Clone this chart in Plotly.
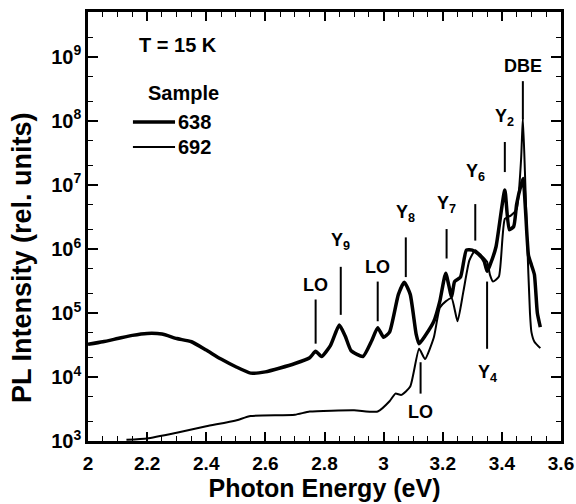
import plotly.graph_objects as go

# Sample 638 (thick)
e638 = [2.00, 2.05, 2.10, 2.15, 2.20, 2.25, 2.30, 2.35, 2.40, 2.45, 2.50, 2.55, 2.60, 2.65, 2.70, 2.75,
        2.77, 2.79, 2.82, 2.85, 2.87, 2.89, 2.93, 2.96, 2.98, 3.00, 3.02, 3.05, 3.07, 3.09, 3.11, 3.12,
        3.14, 3.17, 3.19, 3.21, 3.23, 3.24, 3.26, 3.28, 3.30, 3.32, 3.34, 3.35, 3.36, 3.38, 3.41, 3.425,
        3.44, 3.45, 3.465, 3.472, 3.48, 3.49, 3.50, 3.51, 3.52, 3.53]
log638 = [4.51, 4.55, 4.60, 4.65, 4.68, 4.67, 4.60, 4.55, 4.42, 4.28, 4.16, 4.06, 4.08, 4.14, 4.21, 4.30,
          4.40, 4.32, 4.49, 4.81, 4.64, 4.41, 4.32, 4.57, 4.77, 4.62, 4.70, 5.29, 5.48, 5.29, 4.67, 4.52,
          4.64, 4.87, 5.18, 5.62, 5.25, 5.49, 5.56, 5.98, 5.98, 5.92, 5.81, 5.65, 5.75, 6.03, 6.92, 6.30,
          6.35, 6.70, 7.00, 7.10, 6.60, 5.90, 5.75, 5.60, 5.00, 4.78]

# Sample 692 (thin)
e692 = [2.13, 2.20, 2.30, 2.40, 2.50, 2.55, 2.70, 2.75, 2.90, 2.98, 3.02, 3.04, 3.06, 3.09, 3.12, 3.14,
        3.17, 3.19, 3.21, 3.23, 3.25, 3.27, 3.29, 3.31, 3.33, 3.35, 3.36, 3.37, 3.39, 3.41, 3.43, 3.45,
        3.465, 3.471, 3.478, 3.485, 3.495, 3.50, 3.51, 3.53]
log692 = [3.02, 3.04, 3.13, 3.23, 3.32, 3.39, 3.41, 3.46, 3.48, 3.46, 3.62, 3.74, 3.72, 3.85, 4.44, 4.28,
          4.62, 5.08, 5.18, 5.23, 4.87, 5.34, 5.82, 5.98, 5.90, 5.80, 5.59, 5.49, 5.57, 6.47, 6.52, 6.62,
          7.40, 8.05, 7.20, 6.20, 5.00, 4.70, 4.55, 4.45]

i638 = [10 ** v for v in log638]
i692 = [10 ** v for v in log692]

# Peak markers: label, energy, line bottom (log), line top (log), label position (log)
mark_labels = ["LO", "Y<sub>9</sub>", "LO", "Y<sub>8</sub>", "Y<sub>7</sub>", "Y<sub>6</sub>", "Y<sub>2</sub>", "DBE", "LO", "Y<sub>4</sub>"]
mark_energy = [2.77, 2.855, 2.98, 3.075, 3.213, 3.31, 3.41, 3.471, 3.125, 3.35]
mark_lo = [4.52, 4.97, 4.87, 5.56, 5.85, 6.13, 7.20, 8.03, 3.74, 4.44]
mark_hi = [5.21, 5.72, 5.49, 6.18, 6.31, 6.70, 7.67, 8.62, 4.23, 5.49]
mark_text_y = [5.43, 6.11, 5.72, 6.56, 6.69, 7.19, 8.06, 8.85, 3.45, 4.05]

decades = [3, 4, 5, 6, 7, 8, 9]

font = dict(family="Liberation Sans, Arial, sans-serif", color="black", weight="bold")

fig = go.Figure()
fig.add_trace(go.Scatter(x=e638, y=i638, mode="lines", name="638", showlegend=False,
                         line=dict(color="black", width=3.5, shape="spline", smoothing=0.5)))
fig.add_trace(go.Scatter(x=e692, y=i692, mode="lines", name="692", showlegend=False,
                         line=dict(color="black", width=2, shape="spline", smoothing=0.5)))

for lab, e, lo, hi, ty in zip(mark_labels, mark_energy, mark_lo, mark_hi, mark_text_y):
    fig.add_shape(type="line", x0=e, x1=e, y0=10 ** lo, y1=10 ** hi, xref="x", yref="y",
                  line=dict(color="black", width=2))
    fig.add_annotation(x=e, y=ty, xref="x", yref="y", text=lab, showarrow=False,
                       font=dict(size=18, **font), xanchor="center", yanchor="middle")

fig.add_annotation(x=2.305, y=9.19, xref="x", yref="y", text="T = 15 K", showarrow=False,
                   xanchor="center", yanchor="middle", font=dict(size=20, **font))

# Hand-placed key (Sample / 638 / 692)
fig.add_annotation(x=0.201, y=0.811, xref="paper", yref="paper", text="Sample", showarrow=False,
                   xanchor="center", yanchor="middle", font=dict(size=20, **font))
key_names = ["638", "692"]
key_widths = [3.5, 2]
key_y = [0.7436, 0.6853]
for name, w, ky in zip(key_names, key_widths, key_y):
    fig.add_shape(type="line", x0=0.095, x1=0.184, y0=ky, y1=ky, xref="paper", yref="paper",
                  line=dict(color="black", width=w))
    fig.add_annotation(x=0.186, y=ky, xref="paper", yref="paper", text=name, showarrow=False,
                       xanchor="left", yanchor="middle", font=dict(size=20, **font))

# y-axis title as annotation (sits lower than axis center in reference)
fig.add_annotation(x=-0.1395, y=0.4266, xref="paper", yref="paper", text="PL Intensity (rel. units)",
                   showarrow=False, textangle=-90, xanchor="center", yanchor="middle",
                   font=dict(size=27, **font))

fig.update_layout(
    width=576, height=504,
    margin=dict(l=88, r=15, t=12, b=63),
    paper_bgcolor="white", plot_bgcolor="white",
    showlegend=False,
    font=font,
)
fig.update_xaxes(range=[2, 3.6], tickvals=[2, 2.2, 2.4, 2.6, 2.8, 3, 3.2, 3.4, 3.6],
                 ticktext=["2", "2.2", "2.4", "2.6", "2.8", "3", "3.2", "3.4", "3.6"],
                 ticks="inside", ticklen=9, tickwidth=1.5, tickcolor="black",
                 minor=dict(dtick=0.05, ticks="inside", ticklen=5, tickwidth=1.2, tickcolor="black"),
                 showline=True, linecolor="black", linewidth=2.5, mirror="allticks",
                 showgrid=False, zeroline=False, automargin=False, ticklabelstandoff=3,
                 tickfont=dict(size=19, **font),
                 title=dict(text="Photon Energy (eV)", font=dict(size=25, **font), standoff=1))
fig.update_yaxes(type="log", range=[3, 9.7],
                 tickvals=[10 ** d for d in decades],
                 ticktext=["10<sup>%d</sup>" % d for d in decades],
                 ticks="inside", ticklen=10, tickwidth=1.5, tickcolor="black",
                 minor=dict(ticks="inside", ticklen=5, tickwidth=1.2, tickcolor="black", showgrid=False),
                 showline=True, linecolor="black", linewidth=2.5, mirror="allticks",
                 showgrid=False, zeroline=False, automargin=False,
                 tickfont=dict(size=20, **font))

fig.write_html("out.html", config={"displayModeBar": False},
               post_script="document.body.style.margin='0';")
